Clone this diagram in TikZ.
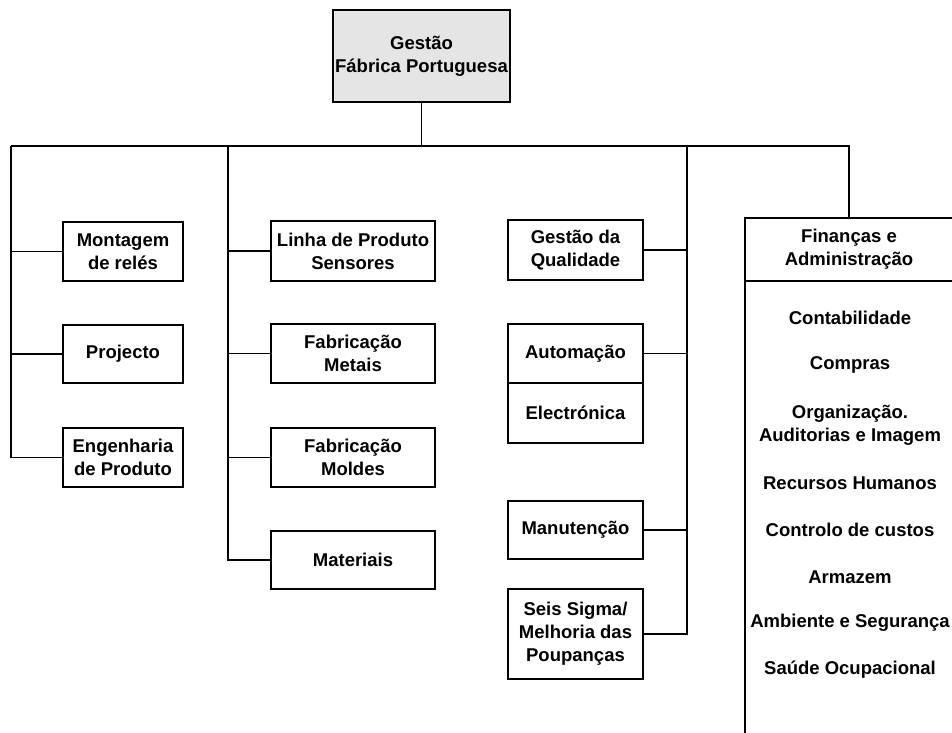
\documentclass[tikz,border=0pt]{standalone}
\usepackage{fontspec}
\setmainfont{Liberation Sans}
\begin{document}
\begin{tikzpicture}[x=1pt,y=-1pt,line width=1.6pt,
  txt/.style={align=center,inner sep=0pt,font=\bfseries\fontsize{18.5}{23}\selectfont},
  unit/.style={txt,draw,line width=1.6pt},
  wire/.style={line width=1.6pt}]
\useasboundingbox (0,0) rectangle (952,732);

% top management
\node[unit,fill=gray!20,minimum width=177,minimum height=92] (top) at (421.5,56) {Gestão\\Fábrica Portuguesa};

% first column
\node[unit,minimum width=120,minimum height=59] (mont) at (123,251.5) {Montagem\\de relés};
\node[unit,minimum width=120,minimum height=58] (proj) at (123,354) {Projecto};
\node[unit,minimum width=120,minimum height=59] (eng)  at (123,457.5) {Engenharia\\de Produto};

% second column
\node[unit,minimum width=164,minimum height=60] (linha) at (353,251) {Linha de Produto\\Sensores};
\node[unit,minimum width=164,minimum height=59] (met)   at (353,353.5) {Fabricação\\Metais};
\node[unit,minimum width=164,minimum height=59] (mol)   at (353,457.5) {Fabricação\\Moldes};
\node[unit,minimum width=164,minimum height=58] (mat)   at (353,560) {Materiais};

% third column
\node[unit,minimum width=135,minimum height=60] (qual) at (575.5,250) {Gestão da\\Qualidade};
\node[unit,minimum width=135,minimum height=59] (auto) at (575.5,353.5) {Automação};
\node[unit,minimum width=135,minimum height=60] (elec) at (575.5,413) {Electrónica};
\node[unit,minimum width=135,minimum height=58] (man)  at (575.5,530) {Manutenção};
\node[unit,minimum width=135,minimum height=90] (seis) at (575.5,634) {Seis Sigma/\\Melhoria das\\Poupanças};

% finance and administration
\node[txt,minimum width=206,minimum height=61] (fin) at (849,249.5) {Finanças e\\Administração};
\draw[wire] (fin.north east) -- (fin.north west) -- (fin.west |- 0,736);
\draw[wire] (fin.south west) -- (fin.south east);
\node[txt] (f1) at (850,318) {Contabilidade};
\node[txt] (f2) at (850,365) {Compras};
\node[txt] (f3) at (850,425) {Organização.\\Auditorias e Imagem};
\node[txt] (f4) at (850,483) {Recursos Humanos};
\node[txt] (f5) at (850,530) {Controlo de custos};
\node[txt] (f6) at (850,577) {Armazem};
\node[txt] (f7) at (850,623) {Ambiente e Segurança};
\node[txt] (f8) at (850,670) {Saúde Ocupacional};

% main bus
\coordinate (b1) at (11,146);
\coordinate (b2) at (228,146);
\coordinate (b3) at (687,146);
\coordinate (b4) at (fin.north |- b1);
\draw[wire] (top.south) -- (top.south |- b1);
\draw[wire] (b1) -- (b4) -- (fin.north);

% column branches
\draw[wire] (b1) |- (eng.west);
\draw[wire] (mont.west) -- (mont.west -| b1);
\draw[wire] (proj.west) -- (proj.west -| b1);

\draw[wire] (b2) |- (mat.west);
\draw[wire] (linha.west) -- (linha.west -| b2);
\draw[wire] (met.west) -- (met.west -| b2);
\draw[wire] (mol.west) -- (mol.west -| b2);

\draw[wire] (b3) |- (seis.east);
\draw[wire] (qual.east) -- (qual.east -| b3);
\draw[wire] (auto.east) -- (auto.east -| b3);
\draw[wire] (man.east) -- (man.east -| b3);
\end{tikzpicture}
\end{document}
